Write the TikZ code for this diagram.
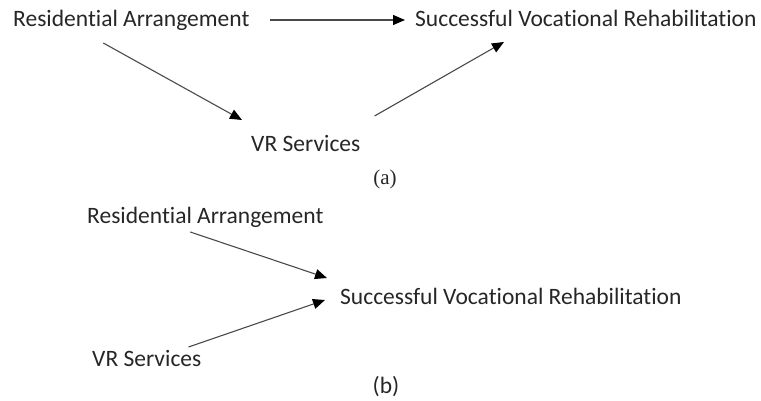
\documentclass[tikz,border=0pt]{standalone}
\usepackage{fontspec}
\setmainfont{Carlito}[Ligatures=NoCommon]
\newfontfamily\capserif{Liberation Serif}
\usepackage{tikz}
\usetikzlibrary{arrows.meta}
\definecolor{ink}  {HTML}{262626}
\definecolor{wire} {HTML}{4A4A4A}

\tikzset{
  factor/.style={inner sep=0pt, anchor=base west, text=ink, font=\fontsize{23.5}{28}\selectfont},
  panel/.style={inner sep=0pt, anchor=base, text=ink},
  link/.style={draw=wire, line width=1.1pt, -{Triangle[length=12pt, width=10pt, color=black]}}
}

\begin{document}
\begin{tikzpicture}[x=1pt, y=-1pt]
  \useasboundingbox (0,0) rectangle (761,401);
  % (a) with VR services in between
  \node[factor] (res-a) at (13,27)  {Residential Arrangement};
  \node[factor] (voc-a) at (415,27) {Successful Vocational Rehabilitation};
  \node[factor] (vrs-a) at (251,152) {VR Services};
  \node[panel, font=\capserif\fontsize{21}{25}\selectfont] (cap-a) at (385,185) {(a)};
  \draw[link] ([shift={(20,-7)}]res-a.base east) -- ([shift={(-10,-7)}]voc-a.base west);
  \draw[link] ([shift={(-28,16)}]res-a.base) -- ([shift={(-9,-32)}]vrs-a.base west);
  \draw[link] ([shift={(14,-36)}]vrs-a.base east) -- ([shift={(89,15)}]voc-a.base west);
  % (b) both pointing at the outcome
  \node[factor] (res-b) at (87,224)  {Residential Arrangement};
  \node[factor] (voc-b) at (340,304) {Successful Vocational Rehabilitation};
  \node[factor] (vrs-b) at (92,366)  {VR Services};
  \node[panel, font=\fontsize{23.5}{28}\selectfont] (cap-b) at (386,393) {(b)};
  \draw[link] ([shift={(-15,8)}]res-b.base) -- ([shift={(-13,-26)}]voc-b.base west);
  \draw[link] ([shift={(-13,-19)}]vrs-b.base east) -- ([shift={(-15,-4)}]voc-b.base west);
\end{tikzpicture}
\end{document}
